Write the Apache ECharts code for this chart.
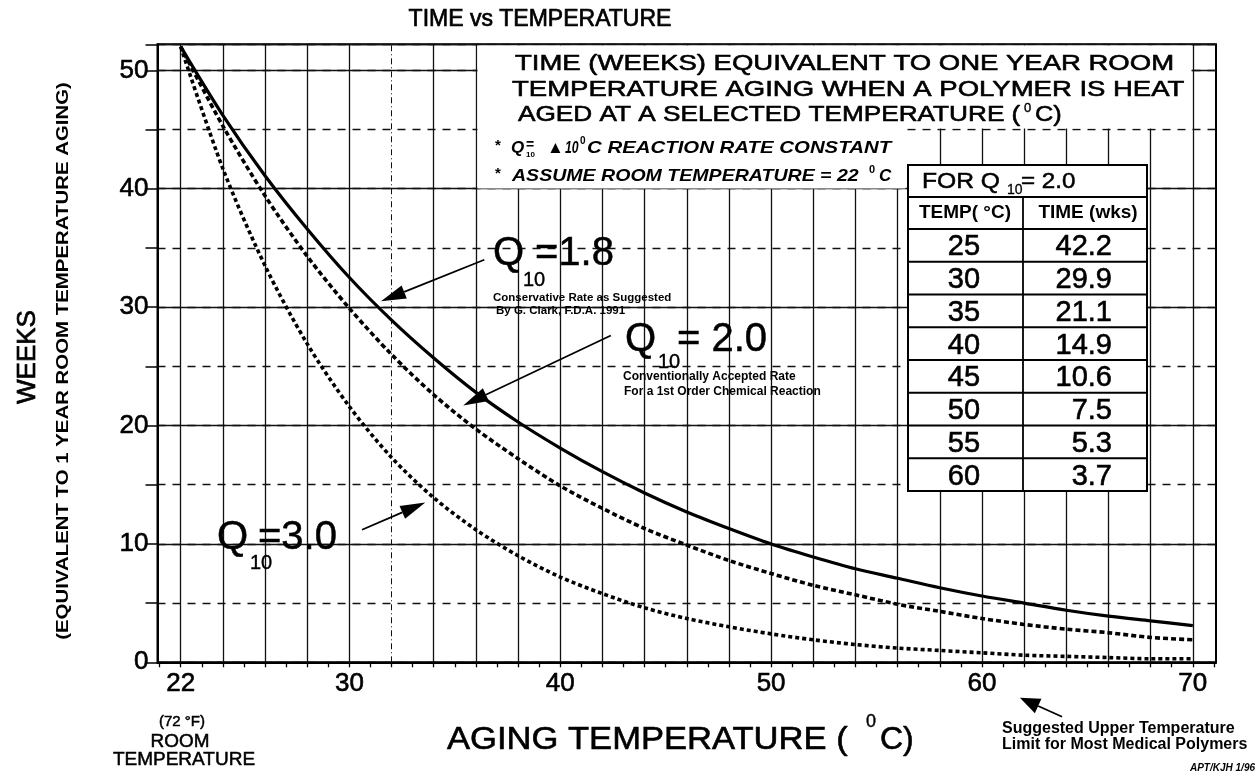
<!DOCTYPE html>
<html lang="en">
<head>
<meta charset="UTF-8">
<title>Time vs Temperature</title>
<script src="https://cdn.jsdelivr.net/npm/echarts@6/dist/echarts.min.js"></script>
<style>
  html, body { margin: 0; padding: 0; background: #fff; }
  #chart { width: 1259px; height: 776px; }
</style>
</head>
<body>
<div id="chart"></div>
<script>
// aging temperature (deg C) and weeks equivalent to one year at 22 C
const temps = [22, 24, 26, 28, 30, 32, 34, 36, 38, 40, 42, 44, 46, 48, 50, 52, 54, 56, 58, 60, 62, 64, 66, 68, 70];
const weeksQ18 = [52.0, 46.2, 41.1, 36.6, 32.5, 28.9, 25.7, 22.8, 20.3, 18.1, 16.1, 14.3, 12.7, 11.3, 10.0, 8.9, 7.9, 7.1, 6.3, 5.6, 5.0, 4.4, 3.9, 3.5, 3.1];
const weeksQ20 = [52.0, 45.3, 39.4, 34.3, 29.9, 26.0, 22.6, 19.7, 17.2, 14.9, 13.0, 11.3, 9.9, 8.6, 7.5, 6.5, 5.7, 4.9, 4.3, 3.7, 3.2, 2.8, 2.5, 2.1, 1.9];
const weeksQ30 = [52.0, 41.7, 33.5, 26.9, 21.6, 17.3, 13.9, 11.2, 9.0, 7.2, 5.8, 4.6, 3.7, 3.0, 2.4, 1.9, 1.5, 1.2, 1.0, 0.8, 0.6, 0.5, 0.4, 0.3, 0.3];

// axis ticks / labels
const xLabels = [22, 30, 40, 50, 60, 70];
const xTicks = [21, 22, 23, 24, 25, 26, 27, 28, 29, 30, 31, 32, 33, 34, 35, 36, 37, 38, 39, 40, 41, 42, 43, 44, 45, 46,
                47, 48, 49, 50, 51, 52, 53, 54, 55, 56, 57, 58, 59, 60, 61, 62, 63, 64, 65, 66, 67, 68, 69, 70, 71];
const gridTemps = [22, 24, 26, 28, 30, 32, 34, 36, 38, 40, 42, 44, 46, 48, 50, 52, 54, 56, 58, 60, 62, 64, 66, 68, 70];

// Q10 = 2.0 table
const tableTemps = ['25', '30', '35', '40', '45', '50', '55', '60'];
const tableWeeks = ['42.2', '29.9', '21.1', '14.9', '10.6', '7.5', '5.3', '3.7'];

// annotation arrows, in data units [temp, weeks]
const arrowPaths = [
  { from: [36.4, 34.0], to: [31.5, 30.5] },
  { from: [42.4, 27.6], to: [35.4, 21.7] },
  { from: [30.6, 11.2], to: [33.6, 13.5] },
  { from: [63.8, -4.6], to: [61.8, -3.0] }
];

const FONT = "'Liberation Sans', Arial, Helvetica, sans-serif";
const chart = echarts.init(document.getElementById('chart'));

function pairs(vals) {
  return temps.map((t, i) => [t, vals[i]]);
}

function curve(name, vals, type) {
  return {
    name: name, type: 'line', data: pairs(vals), z: 5,
    smooth: 0.3, showSymbol: false, silent: true,
    lineStyle: { color: '#000', width: type === 'solid' ? 3.2 : 3.6, type: type }
  };
}

const axisText = { fontSize: 26, fontFamily: FONT, color: '#000', textBorderColor: '#000', textBorderWidth: 0.6 };

chart.setOption({
  animation: false,
  backgroundColor: '#fff',
  grid: { left: 157.5, right: 43, top: 44.3, bottom: 113.7, show: true, borderColor: '#000', borderWidth: 2 },
  xAxis: {
    type: 'value', min: 20.9, max: 71.1,
    axisLine: { show: true, onZero: false, lineStyle: { color: '#000', width: 2 } },
    axisTick: { show: true, customValues: xTicks, length: 5, lineStyle: { color: '#000', width: 1.3 } },
    axisLabel: Object.assign({ customValues: xLabels, margin: 9 }, axisText),
    splitLine: { show: false }
  },
  yAxis: [
    {
      type: 'value', min: 0, max: 52.2, interval: 10, position: 'left',
      axisLine: { show: true, lineStyle: { color: '#000', width: 2 } },
      axisTick: { show: true, length: 12, lineStyle: { color: '#000', width: 1.5 } },
      axisLabel: Object.assign({ margin: 9, showMaxLabel: false,
                   formatter: v => (v % 10 === 0 ? String(v) : '') }, axisText),
      splitLine: { show: true, lineStyle: { color: '#111', width: 1.3 } }
    },
    {
      type: 'value', min: 0, max: 52.2, interval: 5, position: 'left',
      axisLine: { show: false },
      axisTick: { show: true, length: 12, lineStyle: { color: '#000', width: 1.5 } },
      axisLabel: { show: false },
      splitLine: { show: true, lineStyle: { color: '#111', width: 1.3, type: [8, 7] } }
    }
  ],
  series: [
    {
      name: 'grid', type: 'line', data: [], z: 1, silent: true,
      markLine: {
        silent: true, symbol: 'none', label: { show: false }, animation: false,
        data: gridTemps.map(t => ({
          xAxis: t,
          lineStyle: { color: '#111', width: t === 32 ? 1 : 1.3, type: t === 32 ? [6, 3, 1, 3] : 'solid' }
        }))
      }
    },
    curve('Q10 = 1.8', weeksQ18, 'solid'),
    curve('Q10 = 2.0', weeksQ20, [5, 3]),
    curve('Q10 = 3.0', weeksQ30, [4, 3])
  ]
});

// o: align, bold, italic, sx (horizontal stretch), rot, heavy (thin outline to thicken glyphs)
function txt(x, y, s, size, o) {
  o = o || {};
  const style = {
    text: s, fontSize: size, fontFamily: FONT, fontWeight: o.bold ? 'bold' : 'normal',
    fontStyle: o.italic ? 'italic' : 'normal', fill: '#000',
    align: o.align || 'left', verticalAlign: 'middle'
  };
  if (o.heavy) {
    style.stroke = '#000';
    style.lineWidth = o.heavy;
  }
  return { type: 'text', x: x, y: y, z: 120, scaleX: o.sx || 1, rotation: o.rot || 0, silent: true, style: style };
}

function rect(x, y, w, h, stroke) {
  return {
    type: 'rect', z: 100, silent: true, shape: { x: x, y: y, width: w, height: h },
    style: { fill: '#fff', stroke: stroke ? '#000' : null, lineWidth: stroke ? 2 : 0 }
  };
}

function hline(x1, x2, y, w) {
  return { type: 'line', z: 105, silent: true, shape: { x1: x1, y1: y, x2: x2, y2: y }, style: { stroke: '#000', lineWidth: w || 1.8 } };
}

function arrow(a, b, len, half) {
  const p = chart.convertToPixel({ gridIndex: 0 }, a);
  const q = chart.convertToPixel({ gridIndex: 0 }, b);
  const dx = q[0] - p[0], dy = q[1] - p[1], d = Math.hypot(dx, dy);
  const ux = dx / d, uy = dy / d;
  const bx = q[0] - ux * len, by = q[1] - uy * len;
  return [
    { type: 'line', z: 110, silent: true, shape: { x1: p[0], y1: p[1], x2: bx, y2: by }, style: { stroke: '#000', lineWidth: 1.8 } },
    { type: 'polygon', z: 110, silent: true,
      shape: { points: [[q[0], q[1]], [bx - uy * half, by + ux * half], [bx + uy * half, by - ux * half]] },
      style: { fill: '#000' } }
  ];
}

const g = [];

// title and axis names
g.push(txt(540, 20, 'TIME vs TEMPERATURE', 23, { align: 'center', heavy: 0.7 }));
g.push(txt(28, 357, 'WEEKS', 26, { align: 'center', rot: Math.PI / 2, heavy: 0.7 }));
g.push(txt(63, 361, '(EQUIVALENT TO 1 YEAR ROOM TEMPERATURE AGING)', 17, { align: 'center', rot: Math.PI / 2, bold: true, sx: 1.2 }));
g.push(txt(447, 740, 'AGING TEMPERATURE (', 32, { sx: 1.08, heavy: 0.6 }));
g.push(txt(866, 722, '0', 18, { heavy: 0.4 }));
g.push(txt(880, 740, 'C)', 32, { heavy: 0.6 }));
g.push(txt(182, 722, '(72 °F)', 15, { align: 'center', heavy: 0.5 }));
g.push(txt(180, 742, 'ROOM', 18, { align: 'center', sx: 1.05, heavy: 0.5 }));
g.push(txt(184, 760, 'TEMPERATURE', 19, { align: 'center', heavy: 0.5 }));
g.push(txt(1002, 729, 'Suggested Upper Temperature', 16, { bold: true }));
g.push(txt(1002, 745, 'Limit for Most Medical Polymers', 16, { bold: true }));
g.push(txt(1255, 768, 'APT/KJH 1/96', 10, { bold: true, italic: true, align: 'right' }));

// explanation box
g.push(rect(477.5, 45.5, 714, 83));
g.push(rect(477.5, 128, 428, 60.5));
g.push(txt(515, 64, 'TIME (WEEKS) EQUIVALENT TO ONE YEAR ROOM', 22, { sx: 1.25, heavy: 0.6 }));
g.push(txt(512, 89.5, 'TEMPERATURE AGING WHEN A POLYMER IS HEAT', 22, { sx: 1.25, heavy: 0.6 }));
g.push(txt(518, 114.5, 'AGED AT A SELECTED TEMPERATURE (', 22, { sx: 1.19, heavy: 0.6 }));
g.push(txt(1024, 108, '0', 13, { heavy: 0.4 }));
g.push(txt(1035, 114.5, 'C)', 22, { sx: 1.15, heavy: 0.6 }));
g.push(txt(495, 146, '*', 15, { bold: true }));
g.push(txt(511, 148, 'Q', 17, { bold: true, italic: true }));
g.push(txt(526, 155, '10', 8, { bold: true }));
g.push(txt(526, 145, '=', 14, { bold: true }));
g.push(txt(547, 148, '\u25B2', 17));
g.push(txt(565, 148, '10', 17, { bold: true, italic: true, sx: 0.72 }));
g.push(txt(580, 141, '0', 10, { bold: true }));
g.push(txt(587, 148, 'C REACTION RATE CONSTANT', 17, { bold: true, italic: true, sx: 1.2 }));
g.push(txt(495, 174, '*', 15, { bold: true }));
g.push(txt(512, 176, 'ASSUME ROOM TEMPERATURE = 22', 17, { bold: true, italic: true, sx: 1.15 }));
g.push(txt(869, 170, '0', 11, { bold: true }));
g.push(txt(879, 176, 'C', 17, { bold: true, italic: true }));

// Q10 = 2.0 table
const tL = 908, tR = 1147, tC = 1023, tTop = 165, hdr = 197, rowTop = 229, rowH = 32.75;
const tBottom = rowTop + rowH * tableTemps.length;
g.push(rect(tL, tTop, tR - tL, tBottom - tTop, true));
g.push(hline(tL, tR, hdr));
g.push({ type: 'line', z: 105, silent: true, shape: { x1: tC, y1: hdr, x2: tC, y2: tBottom }, style: { stroke: '#000', lineWidth: 1.8 } });
g.push(txt(922, 182, 'FOR Q', 22, { sx: 1.12, heavy: 0.5 }));
g.push(txt(1007, 190, '10', 14, { heavy: 0.3 }));
g.push(txt(1021, 182, '= 2.0', 22, { sx: 1.1, heavy: 0.5 }));
g.push(txt(965, 213, 'TEMP( \u00B0C)', 19, { bold: true, align: 'center' }));
g.push(txt(1088, 213, 'TIME (wks)', 19, { bold: true, align: 'center' }));
tableTemps.forEach((t, i) => {
  const y0 = rowTop + rowH * i;
  g.push(hline(tL, tR, y0));
  g.push(txt(964, y0 + rowH / 2 + 2, t, 29, { align: 'center', heavy: 0.6 }));
  g.push(txt(1112, y0 + rowH / 2 + 2, tableWeeks[i], 29, { align: 'right', heavy: 0.6 }));
});

// curve annotations
g.push(txt(493, 254, 'Q', 40, { heavy: 0.5 }));
g.push(txt(523, 280, '10', 20, { heavy: 0.4 }));
g.push(txt(535, 254, '=1.8', 40, { heavy: 0.5 }));
g.push(txt(493, 298, 'Conservative Rate as Suggested', 11.5, { bold: true }));
g.push(txt(496, 311, 'By G. Clark, F.D.A. 1991', 11.5, { bold: true }));
g.push(txt(625, 340, 'Q', 40, { heavy: 0.5 }));
g.push(txt(658, 362, '10', 20, { heavy: 0.4 }));
g.push(txt(677, 340, '= 2.0', 40, { heavy: 0.5 }));
g.push(txt(623, 377, 'Conventionally Accepted Rate', 12, { bold: true }));
g.push(txt(624, 392, 'For a 1st Order Chemical Reaction', 12, { bold: true }));
g.push(txt(217, 538, 'Q', 40, { heavy: 0.5 }));
g.push(txt(250, 563, '10', 20, { heavy: 0.4 }));
g.push(txt(258, 538, '=3.0', 40, { heavy: 0.5 }));

arrowPaths.forEach((a, i) => {
  arrow(a.from, a.to, i === 3 ? 20 : 25, i === 3 ? 8 : 7).forEach(e => g.push(e));
});

chart.setOption({ graphic: { elements: g } });
</script>
</body>
</html>
